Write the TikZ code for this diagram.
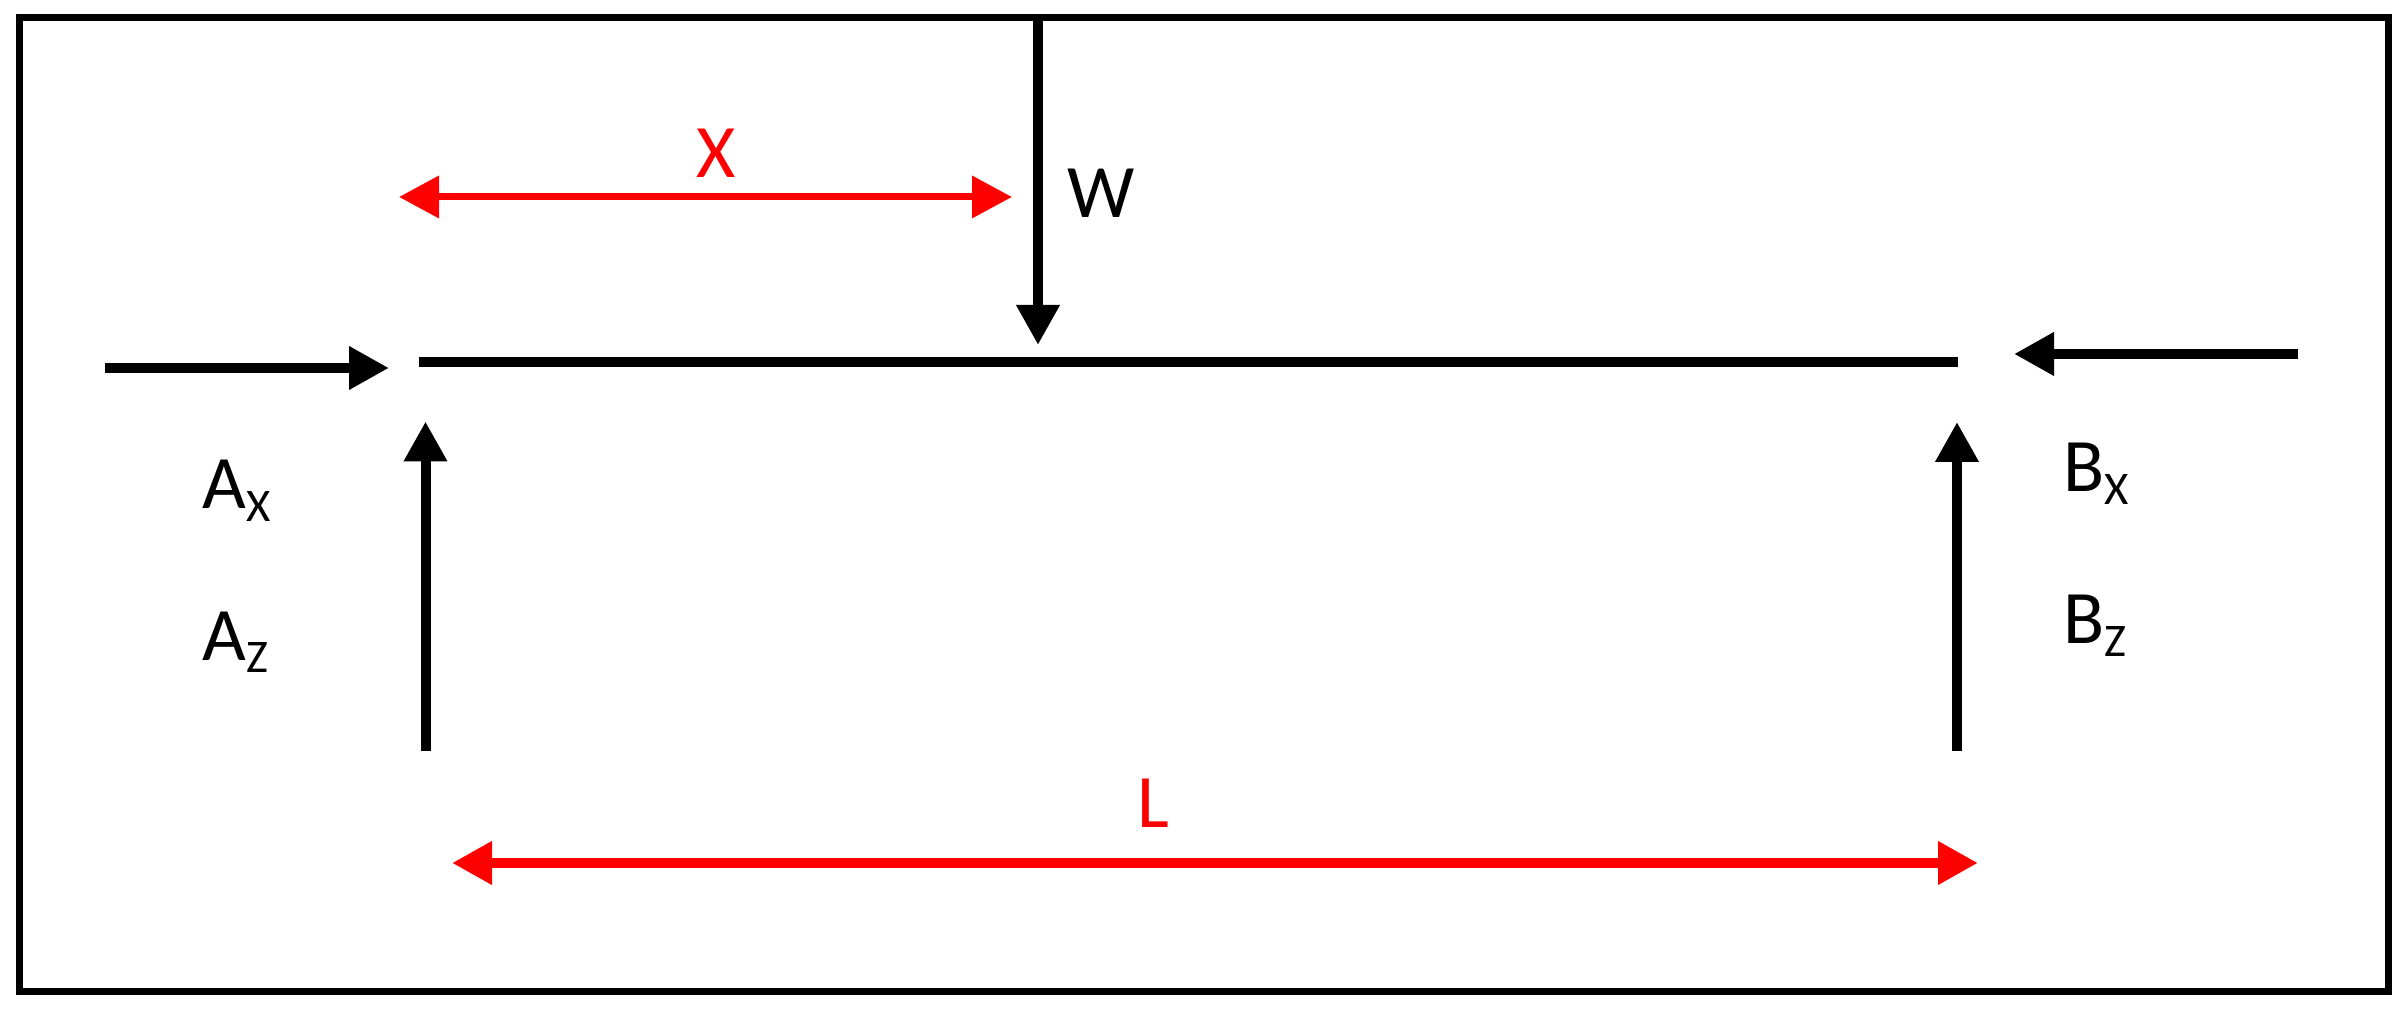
\documentclass[tikz,border=0pt]{standalone}
\usepackage{fontspec}
\setmainfont{Carlito}
\usetikzlibrary{arrows.meta, positioning}
\tikzset{
  force/.style={line width=1mm, draw=black, -{Triangle[length=4mm,width=4.1mm]}},
  span/.style={draw=red, {Triangle[length=4mm,width=4.1mm]}-{Triangle[length=4mm,width=4.1mm]}},
  lab/.style={inner sep=0pt, anchor=base west, font=\fontsize{21.5}{25}\selectfont},
  redlab/.style={inner sep=0pt, anchor=base, text=red, font=\fontsize{21.5}{25}\selectfont}
}
\newcommand{\forcelab}[2]{#1\raisebox{-1.25mm}{\fontsize{13.3}{16}\selectfont #2}}

\begin{document}
\begin{tikzpicture}
\useasboundingbox (0,0) rectangle (24.06,10.14);
% outer frame
\draw[line width=0.72mm] (0.195,0.225) rectangle (23.885,9.965);

% beam
\coordinate (beamL) at (4.19,6.52);
\coordinate (beamR) at (19.58,6.52);
\draw[line width=1.05mm] (beamL) -- (beamR);

% load from above
\coordinate (wtop) at (10.38,9.93);
\coordinate (wtip) at (10.38,6.69);
\draw[force] (wtop) -- (wtip);
\node[lab] (wlab) at (10.67,7.96) {W};

% horizontal reactions
\coordinate (axtail) at (1.05,6.46);
\coordinate (axtip) at (3.89,6.46);
\draw[force] (axtail) -- (axtip);
\coordinate (bxtail) at (22.98,6.60);
\coordinate (bxtip) at (20.14,6.60);
\draw[force] (bxtail) -- (bxtip);

% vertical reactions
\coordinate (aztail) at (4.255,2.63);
\coordinate (aztip) at (4.255,5.925);
\draw[force] (aztail) -- (aztip);
\coordinate (bztail) at (19.57,2.63);
\coordinate (bztip) at (19.57,5.92);
\draw[force] (bztail) -- (bztip);

% reaction labels
\node[lab] (ax) at (2.02,5.05) {\forcelab{A}{X}};
\node[lab] (az) at (2.02,3.535) {\forcelab{A}{Z}};
\node[lab] (bx) at (20.63,5.22) {\forcelab{B}{X}};
\node[lab] (bz) at (20.63,3.70) {\forcelab{B}{Z}};

% dimensions
\coordinate (xL) at (3.99,8.17);
\coordinate (xR) at (10.12,8.17);
\draw[span, line width=0.7mm] (xL) -- (xR);
\node[redlab] (xlab) at (7.16,8.36) {X};
\coordinate (lL) at (4.52,1.51);
\coordinate (lR) at (19.78,1.51);
\draw[span, line width=1mm] (lL) -- (lR);
\node[redlab] (llab) at (11.53,1.86) {L};
\end{tikzpicture}
\end{document}
